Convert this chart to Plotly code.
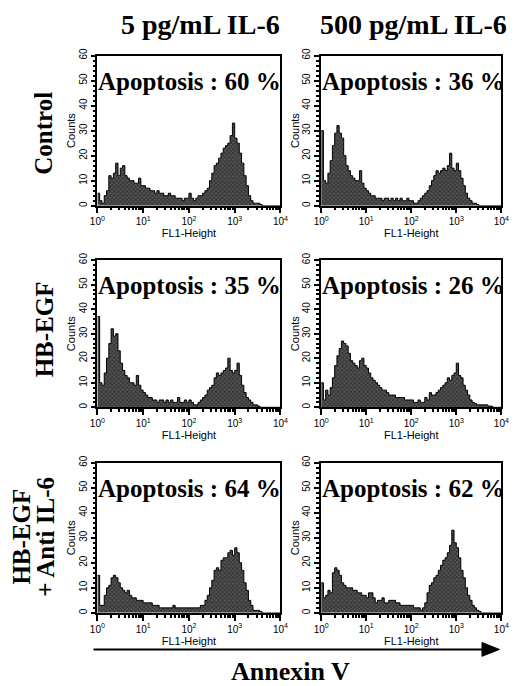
import numpy as np
import plotly.graph_objects as go

# histogram channels: log10(FL1) from 0 to 4, one channel every 0.05 decade
CHANNEL_STEP = 0.05
N_CHANNELS = 81

COL_TITLES = ["5 pg/mL IL-6", "500 pg/mL IL-6"]
ROW_TITLES = [["Control"], ["HB-EGF"], ["HB-EGF", "+ Anti IL-6"]]
APOPTOSIS = [[60, 36], [35, 26], [64, 62]]

# counts per channel
CONTROL_5 = [5, 2, 1, 4, 6, 12, 11, 13, 17, 12, 15, 16, 12, 11, 10, 10, 9, 9, 11, 8,
             8, 7, 7, 6, 6, 5, 6, 5, 5, 4, 4, 5, 4, 4, 3, 3, 3, 2, 3, 3,
             5, 3, 2, 3, 4, 4, 5, 6, 7, 10, 13, 16, 17, 19, 21, 23, 24, 25, 28, 33,
             27, 25, 21, 17, 12, 8, 4, 2, 1, 1, 1, 0.5, 0, 0, 0, 0, 0, 0, 0, 0, 0]
CONTROL_500 = [30, 10, 9, 13, 18, 24, 29, 32, 29, 27, 20, 16, 14, 12, 11, 10, 10, 14, 9, 7,
               6, 5, 4, 4, 3, 3, 3, 2, 3, 3, 2, 3, 2, 3, 2, 3, 2, 2, 3, 2,
               2, 1, 1, 2, 3, 4, 5, 6, 8, 10, 12, 14, 13, 14, 15, 14, 16, 21, 15, 14,
               17, 14, 11, 8, 5, 3, 2, 1, 1, 0.5, 0, 0, 0, 0, 0, 0, 0, 0, 0, 0, 0]
HBEGF_5 = [37, 10, 9, 14, 20, 26, 32, 29, 30, 23, 18, 15, 13, 12, 10, 10, 9, 13, 9, 7,
           6, 5, 4, 4, 3, 3, 2, 3, 3, 2, 3, 2, 3, 2, 2, 4, 2, 2, 3, 2,
           3, 2, 1, 1, 2, 3, 4, 5, 7, 8, 9, 12, 14, 13, 14, 15, 16, 20, 15, 14,
           15, 18, 13, 9, 6, 4, 3, 2, 1, 1, 0.5, 0, 0, 0, 0, 0, 0, 0, 0, 0, 0]
HBEGF_500 = [10, 3, 7, 5, 8, 12, 17, 21, 24, 27, 26, 25, 22, 19, 18, 17, 16, 19, 20, 17,
             16, 14, 12, 11, 10, 9, 8, 7, 7, 6, 5, 5, 5, 4, 4, 4, 4, 3, 3, 3,
             3, 2, 2, 3, 2, 2, 4, 3, 6, 5, 5, 6, 7, 8, 9, 10, 12, 11, 13, 14,
             18, 13, 12, 9, 7, 5, 3, 2, 1.5, 1, 1, 1, 1, 1, 0.5, 0.5, 0, 0, 0, 0, 0]
ANTI_5 = [15, 3, 3, 7, 10, 11, 14, 15, 14, 12, 10, 9, 8, 9, 7, 6, 6, 5, 5, 5,
          4, 4, 4, 4, 3, 3, 3, 2, 2, 2, 2, 2, 2, 3, 2, 2, 2, 2, 2, 2,
          2, 2, 2, 2, 2, 3, 3, 5, 7, 10, 13, 17, 18, 17, 21, 22, 22, 24, 25, 23,
          26, 24, 20, 17, 12, 9, 5, 3, 1, 1, 1, 0.5, 0, 0, 0, 0, 0, 0, 0, 0, 0]
ANTI_500 = [12, 6, 7, 9, 8, 16, 18, 17, 15, 12, 11, 10, 10, 10, 9, 9, 8, 8, 7, 7,
            6, 8, 8, 6, 4, 5, 5, 6, 4, 4, 5, 5, 5, 4, 4, 3, 3, 3, 3, 3,
            3, 2, 2, 2, 1, 2, 4, 8, 11, 12, 14, 15, 17, 19, 21, 22, 24, 27, 33, 28,
            26, 22, 17, 14, 10, 7, 5, 3, 2, 1, 0.5, 0, 0, 0, 0, 0, 0, 0, 0, 0, 0]

PANELS = [[CONTROL_5, CONTROL_500], [HBEGF_5, HBEGF_500], [ANTI_5, ANTI_500]]

# the page body keeps its default 8px margin, so the figure is 8px smaller
# and all positions below are page pixels shifted by that margin
PAGE = 8
W, H = 520 - PAGE, 686 - PAGE
COL_PX = [(92, 281), (323, 509)]
ROW_PX = [(49, 201), (256, 405), (461, 613)]


def px(x):
    return (x - PAGE) / W


def py(y):
    return 1 - (y - PAGE) / H


SERIF = "Liberation Serif"
SANS = "Liberation Sans"

fl1 = 10 ** (np.arange(N_CHANNELS) * CHANNEL_STEP)
minor_x = [m * 10 ** d for d in range(4) for m in range(2, 10)]

fig = go.Figure()
layout = {}
n = 0
for r, row in enumerate(PANELS):
    for c, counts in enumerate(row):
        n += 1
        sfx = "" if n == 1 else str(n)
        fig.add_trace(go.Scatter(
            x=fl1, y=counts, xaxis=f"x{sfx}", yaxis=f"y{sfx}",
            mode="lines", line=dict(color="black", width=1, shape="hv"),
            fill="tozeroy", fillcolor="#333333",
            fillpattern=dict(shape="x", fgcolor="#111111", bgcolor="#555555", size=3, solidity=0.5),
            showlegend=False, hoverinfo="skip",
        ))
        x0, x1 = COL_PX[c]
        y0, y1 = ROW_PX[r]
        layout[f"xaxis{sfx}"] = dict(
            domain=[px(x0), px(x1)], anchor=f"y{sfx}", type="log", range=[0, 4],
            tickvals=[1, 10, 100, 1000, 10000],
            ticktext=["10<sup>0</sup>", "10<sup>1</sup>", "10<sup>2</sup>", "10<sup>3</sup>", "10<sup>4</sup>"],
            ticks="outside", ticklen=6, tickwidth=1.5, tickcolor="black",
            minor=dict(tickvals=minor_x, ticks="outside", ticklen=3, tickcolor="black", showgrid=False),
            showline=True, mirror=True, linecolor="black", linewidth=1.5,
            showgrid=False, zeroline=False,
            tickfont=dict(family=SANS, size=10, color="black"),
            title=dict(text="FL1-Height", font=dict(family=SANS, size=11, color="black"), standoff=0),
        )
        layout[f"yaxis{sfx}"] = dict(
            domain=[py(y1), py(y0)], anchor=f"x{sfx}", range=[0, 60],
            tickvals=[0, 10, 20, 30, 40, 50, 60], tickangle=-90,
            ticks="outside", ticklen=5, tickwidth=1.5, tickcolor="black",
            minor=dict(dtick=2, ticks="outside", ticklen=3, tickcolor="black", showgrid=False),
            showline=True, mirror=True, linecolor="black", linewidth=1.5,
            showgrid=False, zeroline=False,
            tickfont=dict(family=SANS, size=10, color="black"),
            title=dict(text="Counts", font=dict(family=SANS, size=11, color="black"), standoff=0),
        )

annotations = []
n = 0
for r in range(3):
    for c in range(2):
        n += 1
        sfx = "" if n == 1 else str(n)
        annotations.append(dict(
            xref=f"x{sfx} domain", yref=f"y{sfx} domain", x=-0.005, y=0.83,
            xanchor="left", yanchor="middle", showarrow=False,
            text=f"<b>Apoptosis : {APOPTOSIS[r][c]} %</b>",
            font=dict(family=SERIF, size=25, color="black"),
        ))

for title, cx in zip(COL_TITLES, [198, 418]):
    annotations.append(dict(
        xref="paper", yref="paper", x=px(cx), y=py(18), showarrow=False,
        text=f"<b>{title}</b>", font=dict(family=SERIF, size=28, color="black"),
        xanchor="center", yanchor="middle",
    ))

row_label_pos = [[(36, 128)], [(37, 326)], [(14, 536), (39, 536)]]
for lines, pos in zip(ROW_TITLES, row_label_pos):
    for line, (lx, ly) in zip(lines, pos):
        annotations.append(dict(
            xref="paper", yref="paper", x=px(lx), y=py(ly), showarrow=False,
            text=f"<b>{line}</b>", textangle=-90,
            font=dict(family=SERIF, size=25, color="black"),
            xanchor="center", yanchor="middle",
        ))

annotations.append(dict(
    xref="paper", yref="paper", x=px(291), y=py(672), showarrow=False,
    text="<b>Annexin V</b>", font=dict(family=SERIF, size=26, color="black"),
    xanchor="center", yanchor="middle",
))

shapes = [
    dict(type="line", xref="paper", yref="paper", x0=px(88), x1=px(492),
         y0=py(650), y1=py(650), line=dict(color="black", width=2)),
    dict(type="path", xref="paper", yref="paper",
         path=f"M {px(507)} {py(650)} L {px(489)} {py(643)} L {px(489)} {py(657)} Z",
         fillcolor="black", line=dict(color="black", width=1)),
]

fig.update_layout(
    width=W, height=H, margin=dict(l=0, r=0, t=0, b=0),
    paper_bgcolor="white", plot_bgcolor="white",
    annotations=annotations, shapes=shapes, **layout,
)

fig.write_html("out.html")
